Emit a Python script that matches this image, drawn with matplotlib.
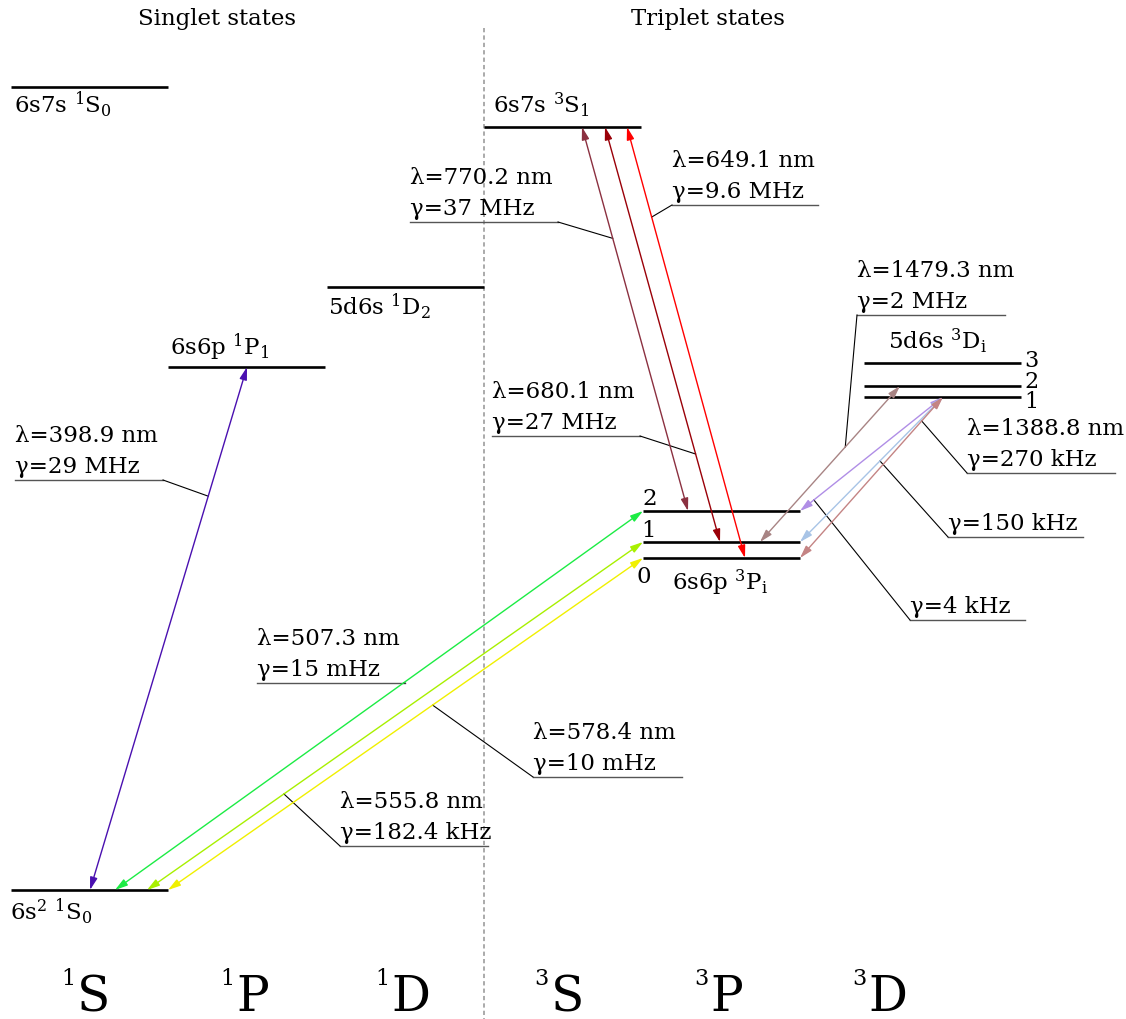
import matplotlib
matplotlib.use("Agg")
import matplotlib.pyplot as plt
from matplotlib.patches import FancyArrowPatch

plt.rcParams["font.family"] = ["DejaVu Serif"]
plt.rcParams["mathtext.fontset"] = "dejavuserif"

# ---------------- data ----------------
# energy levels: key, term column, height above the ground state (diagram units)
level_keys = ["g", "7s1S0", "1P1", "1D2", "3S1", "3P0", "3P1", "3P2", "3D1", "3D2", "3D3"]
level_terms = ["1S", "1S", "1P", "1D", "3S", "3P", "3P", "3P", "3D", "3D", "3D"]
level_heights = [0, 803, 523, 603, 763, 332, 348, 379, 493, 504, 527]
level_texts = [r"6s$^2$ $^1$S$_0$", r"6s7s $^1$S$_0$", r"6s6p $^1$P$_1$",
               r"5d6s $^1$D$_2$", r"6s7s $^3$S$_1$", "", "", "", "", "", ""]

term_names = ["1S", "1P", "1D", "3S", "3P", "3D"]
term_mult = ["1", "1", "1", "3", "3", "3"]
term_letter = ["S", "P", "D", "S", "P", "D"]

fine_3P_labels = ["0", "1", "2"]
fine_3D_labels = ["1", "2", "3"]

# transitions
trans_lower = ["g", "g", "g", "g", "3P2", "3P1", "3P0", "3P1", "3P2", "3P1", "3P0"]
trans_upper = ["1P1", "3P2", "3P1", "3P0", "3S1", "3S1", "3S1", "3D2", "3D1", "3D1", "3D1"]
trans_lambda = ["398.9", "507.3", "555.8", "578.4", "770.2", "680.1", "649.1",
                "1479.3", "", "", "1388.8"]
trans_gamma = ["29 MHz", "15 mHz", "182.4 kHz", "10 mHz", "37 MHz", "27 MHz",
               "9.6 MHz", "2 MHz", "4 kHz", "150 kHz", "270 kHz"]
trans_colors = ["#4a10b0", "#1cec44", "#a8f000", "#f0f000", "#8b3040", "#9a0008",
                "#ff0000", "#a88484", "#b08ee6", "#a8c4e6", "#c48484"]

# ---------------- layout ----------------
W, H = 1126, 1019
Y0 = 890  # pixel row of the ground state


def py(row):
    """pixel row -> diagram height"""
    return Y0 - row


term_left = {"1S": 11, "1P": 168, "1D": 327, "3S": 484, "3P": 643, "3D": 864}
term_letter_x = [77, 236, 391, 551, 710, 868]
LEVEL_W = 157

# where each transition touches its lower / upper level (x in px)
arrow_x_lower = [90, 115, 147, 168, 688, 720, 745, 760, 800, 800, 800]
arrow_x_upper = [247, 643, 643, 643, 582, 605, 627, 900, 943, 943, 943]

# label blocks: text x, first baseline row, underline other end x,
# fraction along the transition where the leader lands, corner side
label_layout = [
    (15, 442, 163, 0.753, "right"),
    (257, 645, 405, 0.547, "right"),
    (340, 808, 488, 0.276, "left"),
    (533, 739, 682, 0.557, "left"),
    (410, 184, 558, 0.710, "right"),
    (492, 398, 640, 0.212, "right"),
    (672, 167, 818, 0.791, "left"),
    (857, 277, 1005, 0.609, "left"),
    (910, 613, 1025, 0.097, "left"),
    (948, 530, 1083, 0.559, "left"),
    (967, 435, 1115, 0.851, "left"),
]

level_label_pos = {
    "g": (10, 920), "7s1S0": (14, 113), "1P1": (170, 355),
    "1D2": (328, 315), "3S1": (493, 113),
}

FS = 16.5

fig = plt.figure(figsize=(W / 100, H / 100), dpi=100)
ax = fig.add_axes([0, 0, 1, 1])
ax.set_xlim(0, W)
ax.set_ylim(py(H), py(0))
ax.axis("off")

height = dict(zip(level_keys, level_heights))

# separator between singlet and triplet manifolds
ax.plot([484, 484], [py(28), py(H)], color="#aaaaaa", lw=1.4,
        linestyle=(0, (2.2, 1.6)), zorder=1)

ax.text(217, py(25), "Singlet states", fontsize=FS, ha="center", va="baseline")
ax.text(708, py(25), "Triplet states", fontsize=FS, ha="center", va="baseline")

# levels
for key, term, h, txt in zip(level_keys, level_terms, level_heights, level_texts):
    x0 = term_left[term]
    ax.plot([x0, x0 + LEVEL_W], [h, h], color="black", lw=1.9,
            solid_capstyle="butt", zorder=2)
    if txt:
        lx, ly = level_label_pos[key]
        ax.text(lx, py(ly), txt, fontsize=FS, ha="left", va="baseline")

ax.text(672, py(590), r"6s6p $^3$P$_\mathrm{i}$", fontsize=FS, ha="left", va="baseline")
ax.text(888, py(349), r"5d6s $^3$D$_\mathrm{i}$", fontsize=FS, ha="left", va="baseline")

for lab, (x, row) in zip(fine_3P_labels, [(637, 583), (641, 537), (642, 505)]):
    ax.text(x, py(row), lab, fontsize=FS, ha="left", va="baseline")
for lab, (x, row) in zip(fine_3D_labels, [(1024, 408), (1024, 388), (1024, 367)]):
    ax.text(x, py(row), lab, fontsize=FS - 0.5, ha="left", va="baseline")

# transitions
for lo, up, xl, xu, col in zip(trans_lower, trans_upper, arrow_x_lower,
                               arrow_x_upper, trans_colors):
    arr = FancyArrowPatch((xl, height[lo]), (xu, height[up]),
                          arrowstyle="<|-|>,head_length=7.5,head_width=2.2",
                          mutation_scale=1, shrinkA=0, shrinkB=0,
                          color=col, lw=1.0, zorder=3)
    ax.add_patch(arr)

# labels with leader lines
for lam, gam, lo, up, xl, xu, (tx, row, ux, t, side) in zip(
        trans_lambda, trans_gamma, trans_lower, trans_upper,
        arrow_x_lower, arrow_x_upper, label_layout):
    lines = []
    if lam:
        lines.append(f"λ={lam} nm")
    lines.append(f"γ={gam}")
    for i, s in enumerate(lines):
        ax.text(tx, py(row + 31 * i), s, fontsize=FS, ha="left", va="baseline")
    uy = py(row + 31 * (len(lines) - 1) + 7)
    ax.plot([tx, ux], [uy, uy], color="#555555", lw=1.0, zorder=2)
    corner = ux if side == "right" else tx
    px_ = xl + t * (xu - xl)
    py_ = height[lo] + t * (height[up] - height[lo])
    ax.plot([corner, px_], [uy, py_], color="black", lw=0.8, zorder=2)

# term symbols along the bottom
for lx, m, letter in zip(term_letter_x, term_mult, term_letter):
    ax.text(lx, py(1011), letter, fontsize=35, ha="left", va="baseline")
    ax.text(lx - 2, py(985), m, fontsize=16, ha="right", va="baseline")

fig.savefig("out.png", dpi=100)
